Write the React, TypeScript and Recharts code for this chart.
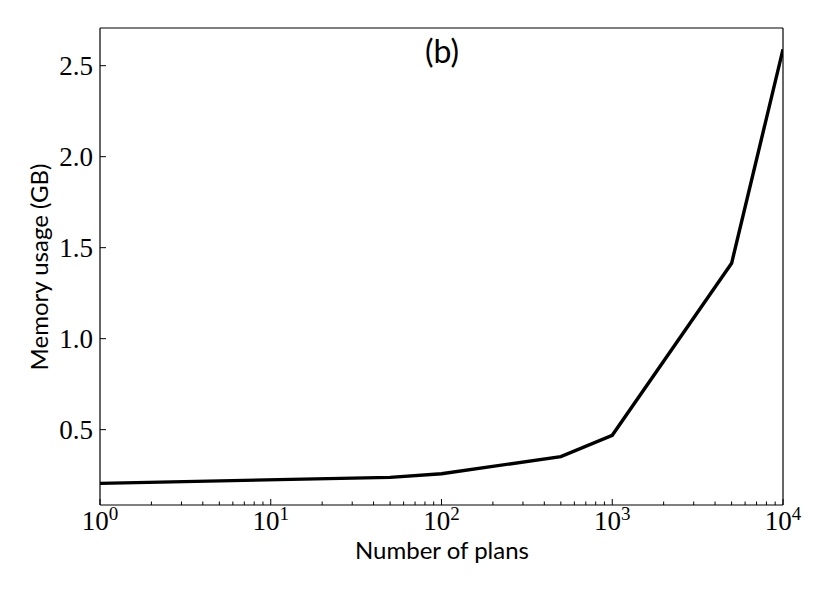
import React from 'react';
import { LineChart, Line, XAxis, YAxis, ReferenceLine, Customized } from 'recharts';

const plans = [1, 50, 100, 500, 1000, 5000, 10000];
const memoryGB = [0.205, 0.238, 0.258, 0.352, 0.469, 1.414, 2.59];
const majorXTicks = [1, 10, 100, 1000, 10000];
const minorXTicks = [2, 3, 4, 5, 6, 7, 8, 9, 20, 30, 40, 50, 60, 70, 80, 90, 200, 300, 400, 500, 600, 700, 800, 900, 2000, 3000, 4000, 5000, 6000, 7000, 8000, 9000];
const yTicks = [0.5, 1.0, 1.5, 2.0, 2.5];
const xDomain = [1, 10000];
const yDomain = [0.086, 2.707];

const data = plans.map((p, i) => ({ plans: p, mem: memoryGB[i] }));
const allXTicks = [...majorXTicks, ...minorXTicks].sort((a, b) => a - b);

const SERIF = '"Liberation Serif", "Times New Roman", serif';
const SANS = 'Lato, "DejaVu Sans", sans-serif';

const XTick = (props: any) => {
  const { x, y, payload } = props;
  const v = payload.value;
  const major = majorXTicks.includes(v);
  const exp = Math.round(Math.log10(v));
  return (
    <g>
      <line x1={x} x2={x} y1={y} y2={y - (major ? 6 : 3.5)} stroke="#000" strokeWidth={1} />
      {major && (
        <text x={x} y={y + 25} textAnchor="middle" fontFamily={SERIF} fontSize={27} fill="#000">
          10
          <tspan dy={-10} fontSize={19}>{exp}</tspan>
        </text>
      )}
    </g>
  );
};

const YTick = (props: any) => {
  const { x, y, payload } = props;
  return (
    <g>
      <line x1={x} x2={x + 6} y1={y} y2={y} stroke="#000" strokeWidth={1} />
      <text x={x - 7} y={y + 9} textAnchor="end" fontFamily={SERIF} fontSize={27} fill="#000">
        {Number(payload.value).toFixed(1)}
      </text>
    </g>
  );
};

const Labels = () => (
  <g>
    <text x={442} y={63} textAnchor="middle" fontFamily={SANS} fontSize={32} fill="#000">(b)</text>
    <text x={442} y={559} textAnchor="middle" fontFamily={SANS} fontSize={24} fill="#000">Number of plans</text>
    <text
      x={48}
      y={267}
      textAnchor="middle"
      fontFamily={SANS}
      fontSize={24}
      fill="#000"
      transform="rotate(-90 48 267)"
    >
      Memory usage (GB)
    </text>
  </g>
);

export default function App() {
  return (
    <div style={{ position: 'absolute', left: 0, top: 0, background: '#fff' }}>
      <LineChart
        width={830}
        height={593}
        data={data}
        margin={{ top: 28, right: 47, bottom: 0, left: 0 }}
      >
        <XAxis
          dataKey="plans"
          type="number"
          scale="log"
          domain={xDomain}
          allowDataOverflow
          ticks={allXTicks}
          interval={0}
          tick={<XTick />}
          tickLine={false}
          tickSize={0}
          tickMargin={0}
          height={88}
          axisLine={{ stroke: '#000', strokeWidth: 1.2 }}
        />
        <YAxis
          type="number"
          domain={yDomain}
          allowDataOverflow
          ticks={yTicks}
          interval={0}
          tick={<YTick />}
          tickLine={false}
          tickSize={0}
          tickMargin={0}
          width={100}
          axisLine={{ stroke: '#000', strokeWidth: 1.2 }}
        />
        <ReferenceLine y={yDomain[1]} stroke="#000" strokeWidth={1.2} ifOverflow="visible" />
        <ReferenceLine x={xDomain[1]} stroke="#000" strokeWidth={1.2} ifOverflow="visible" />
        <Line
          dataKey="mem"
          stroke="#000"
          strokeWidth={3.4}
          dot={false}
          isAnimationActive={false}
        />
        <Customized component={Labels} />
      </LineChart>
    </div>
  );
}
